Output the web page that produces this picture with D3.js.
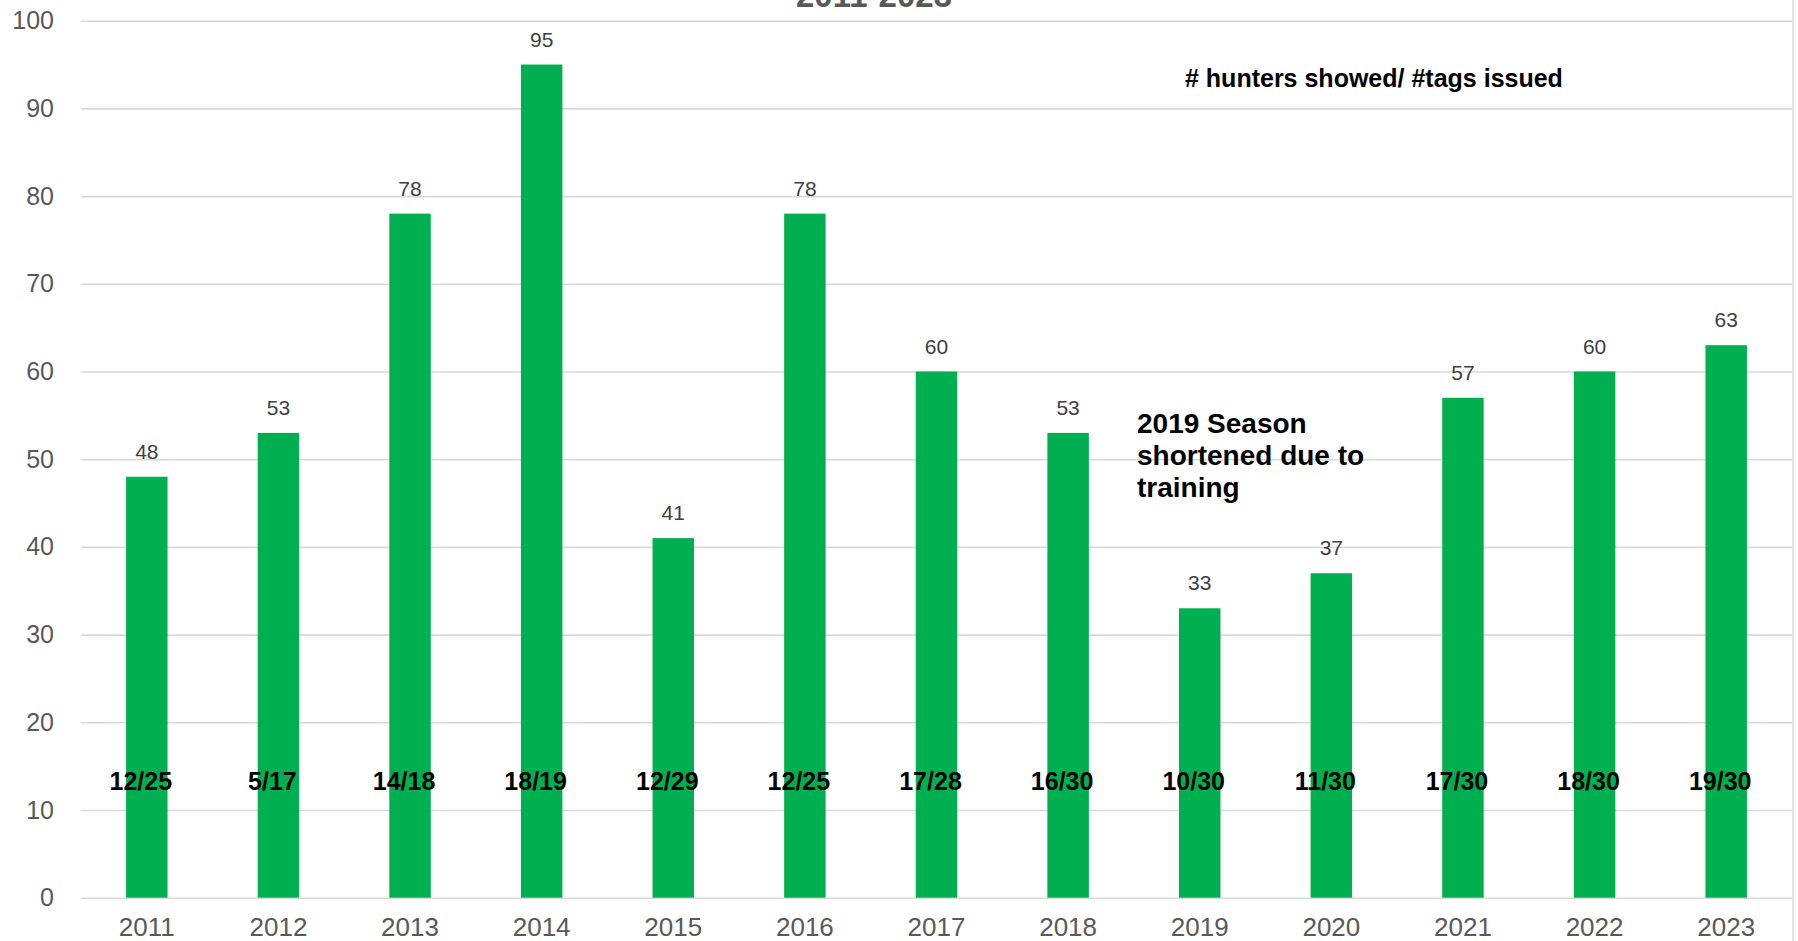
<!DOCTYPE html>
<html>
<head>
<meta charset="utf-8">
<script src="https://cdn.jsdelivr.net/npm/d3@7"></script>
<style>
  html, body { margin: 0; padding: 0; background: #fff; }
  svg { display: block; font-family: "Liberation Sans", Arial, sans-serif; }
</style>
</head>
<body>
<svg id="chart" width="1798" height="941"></svg>
<script>
  'use strict';

  // data
  const years = ['2011', '2012', '2013', '2014', '2015', '2016', '2017', '2018', '2019', '2020', '2021', '2022', '2023'];
  const successRate = [48, 53, 78, 95, 41, 78, 60, 53, 33, 37, 57, 60, 63];
  const tagLabels = ['12/25', '5/17', '14/18', '18/19', '12/29', '12/25', '17/28', '16/30', '10/30', '11/30', '17/30', '18/30', '19/30'];
  const yTicks = [0, 10, 20, 30, 40, 50, 60, 70, 80, 90, 100];
  const titleLine = '2011-2023';
  const legendNote = '# hunters showed/ #tags issued';
  const seasonNote = ['2019 Season', 'shortened due to', 'training'];

  const width = 1798;
  const height = 941;
  const plot = { left: 81, right: 1792, top: 20.7, bottom: 897.7 };

  const svg = d3.select('#chart');

  const x = d3.scaleBand()
    .domain(years)
    .range([plot.left, plot.right])
    .paddingInner(0.685)
    .paddingOuter(0.3425);

  const y = d3.scaleLinear()
    .domain([0, 100])
    .range([plot.bottom, plot.top]);

  // outer border on the right (chart frame)
  svg.append('line')
    .attr('x1', plot.right + 1).attr('x2', plot.right + 1)
    .attr('y1', 0).attr('y2', height)
    .attr('stroke', '#d9d9d9')
    .attr('stroke-width', 1.5);

  // gridlines + y labels
  const yAxis = d3.axisLeft(y)
    .tickValues(yTicks)
    .tickSize(-(plot.right - plot.left))
    .tickPadding(27);

  const gy = svg.append('g')
    .attr('transform', `translate(${plot.left},0)`)
    .call(yAxis);
  gy.select('.domain').remove();
  gy.selectAll('.tick line')
    .attr('stroke', '#d9d9d9')
    .attr('stroke-width', 1.6);
  gy.selectAll('.tick text')
    .attr('fill', '#595959')
    .attr('font-size', '25px')
    .attr('font-family', '"Liberation Sans", Arial, sans-serif');

  // x labels
  const xAxis = d3.axisBottom(x).tickSize(0).tickPadding(0);
  const gx = svg.append('g')
    .attr('transform', `translate(0,${plot.bottom})`)
    .call(xAxis);
  gx.select('.domain').remove();
  gx.selectAll('.tick text')
    .attr('fill', '#595959')
    .attr('font-size', '26px')
    .attr('font-family', '"Liberation Sans", Arial, sans-serif')
    .attr('dy', null)
    .attr('y', 38);

  // bars
  const rows = years.map((yr, i) => ({ year: yr, value: successRate[i], tags: tagLabels[i] }));

  svg.append('g')
    .selectAll('rect')
    .data(rows)
    .join('rect')
    .attr('x', d => x(d.year))
    .attr('y', d => y(d.value))
    .attr('width', x.bandwidth())
    .attr('height', d => y(0) - y(d.value))
    .attr('fill', '#00b050');

  // value labels above bars
  svg.append('g')
    .selectAll('text')
    .data(rows)
    .join('text')
    .attr('x', d => x(d.year) + x.bandwidth() / 2)
    .attr('y', d => y(d.value) - 18)
    .attr('text-anchor', 'middle')
    .attr('fill', '#404040')
    .attr('font-size', '21px')
    .text(d => d.value);

  // hunters/tags labels inside bars
  svg.append('g')
    .selectAll('text')
    .data(rows)
    .join('text')
    .attr('x', d => x(d.year) + x.bandwidth() / 2 - 6)
    .attr('y', y(12.3))
    .attr('text-anchor', 'middle')
    .attr('fill', '#000')
    .attr('font-weight', 'bold')
    .attr('font-size', '25px')
    .text(d => d.tags);

  // title (second line, mostly cut off at the top as in the source)
  svg.append('text')
    .attr('x', 874)
    .attr('y', 7)
    .attr('text-anchor', 'middle')
    .attr('fill', '#595959')
    .attr('font-weight', 'bold')
    .attr('font-size', '33px')
    .text(titleLine);

  // notes
  svg.append('text')
    .attr('x', 1185)
    .attr('y', 87)
    .attr('fill', '#000')
    .attr('font-weight', 'bold')
    .attr('font-size', '25px')
    .text(legendNote);

  svg.append('text')
    .attr('x', 1137)
    .attr('y', 433)
    .attr('fill', '#000')
    .attr('font-weight', 'bold')
    .attr('font-size', '28px')
    .selectAll('tspan')
    .data(seasonNote)
    .join('tspan')
    .attr('x', 1137)
    .attr('dy', (d, i) => i === 0 ? 0 : 32)
    .text(d => d);
</script>
</body>
</html>
